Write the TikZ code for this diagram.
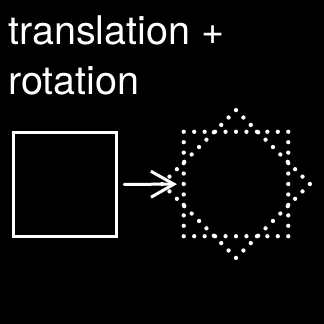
\documentclass[tikz,border=0pt]{standalone}
\usepackage{fontspec}
\setmainfont{TeX Gyre Heros}
\usetikzlibrary{arrows.meta,positioning}

\begin{document}
\begin{tikzpicture}[x=1pt,y=-1pt,
  framebox/.style={draw=white,line width=3.3pt,minimum size=103.5pt,inner sep=0pt,outer sep=0pt},
  dotbox/.style={draw=white,line width=4.3pt,line cap=round,dash pattern=on 0pt off 10.45pt,minimum size=104.5pt,inner sep=0pt,outer sep=0pt},
  shiftarrow/.style={draw=white,line width=3pt,line cap=round,-{Straight Barb[length=23pt,width=26pt,line width=3pt]}}]
\useasboundingbox (0,0) rectangle (324,324);
\fill[black] (0,0) rectangle (324,324);
\node[anchor=base west,align=left,text=white,inner sep=0pt,font=\fontsize{39.5}{50}\selectfont] (title) at (8,94) {translation +\\rotation};
\node[framebox] (before) at (65,184.5) {};
\node[dotbox] (after) at (236,184) {};
\node[dotbox,rotate=45] (afterrot) at (after) {};
\draw[shiftarrow,shorten <=7.5pt,shorten >=6.75pt] (before) -- (after);
\end{tikzpicture}
\end{document}
